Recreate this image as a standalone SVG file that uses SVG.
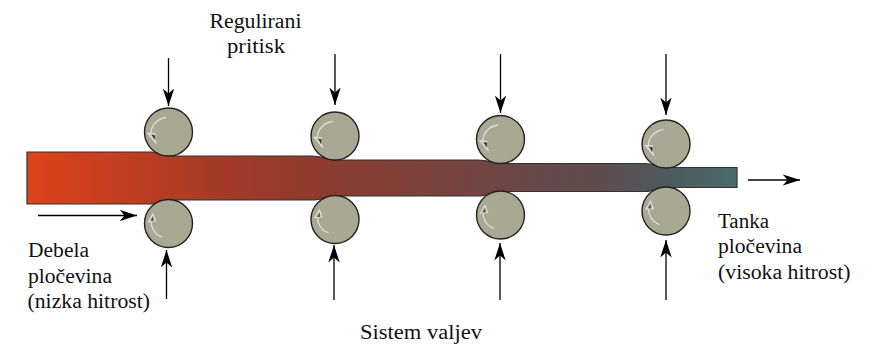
<svg xmlns="http://www.w3.org/2000/svg" width="874" height="345" viewBox="0 0 874 345">
<style>
.t{font-family:"Liberation Serif","Times New Roman",serif;font-size:20.500px;fill:#111}
.r{fill:#a9a993;stroke:#222;stroke-width:1.4}
.h{fill:none;stroke:#ddd;stroke-width:1.3}
.a{fill:none;stroke:#000;stroke-width:1.3;marker-end:url(#m)}
</style>
<defs>
<linearGradient id="g" gradientUnits="userSpaceOnUse" x1="27" y1="0" x2="737" y2="0"><stop offset="0" stop-color="#df441a"/><stop offset=".1" stop-color="#c83f1f"/><stop offset=".27" stop-color="#a53a26"/><stop offset=".43" stop-color="#8a3b30"/><stop offset=".6" stop-color="#75433f"/><stop offset=".8" stop-color="#5e4b4e"/><stop offset=".9" stop-color="#4f5a5c"/><stop offset="1" stop-color="#4a6a6c"/></linearGradient>
<marker id="m" markerUnits="userSpaceOnUse" markerWidth="18" markerHeight="12" refX="17.500" refY="6" orient="auto"><path d="M0 .3L17.500 6L0 11.700L5 6Z" fill="#000"/></marker>
<g id="up"><circle class="r" r="24"/><path class="h" d="M-2.500 -14.500C-11 -13.500 -18 -6 -17.500 1.500L-12 11.500L-20.500 1.500L-13 2"/><path d="M-17 2.500L-13.500 3.500L-14 8Z" fill="#333"/></g>
<g id="dn"><circle class="r" r="24"/><path class="h" d="M-6.500 13.500C-14 11 -18 3 -17.500 -3"/><path class="h" d="M-20 -2L-15.500 -9.500L-13 -2.500Z"/><path d="M-18 -2.500L-15.500 -7L-15 -2.500Z" fill="#555"/></g>
</defs>
<g id="sheet"><path d="M27 152H152C158 152 162 156 169 156H312C322 156 328 160 335 160H478C488 160 494 163.500 500 163.500H645C654 163.500 660 167.500 666 167.500H737V187.500H666C660 187.500 654 191.500 645 191.500H500C494 191.500 488 196 478 196H335C328 196 322 200 312 200H169C162 200 158 204 152 204H27Z" fill="url(#g)" stroke="#333" stroke-width="1.2"/></g>
<g id="roller-1-top"><use href="#up" x="168.500" y="132"/></g>
<g id="roller-1-bottom"><use href="#dn" x="168.500" y="223.500"/></g>
<g id="roller-2-top"><use href="#up" x="335" y="136"/></g>
<g id="roller-2-bottom"><use href="#dn" x="335" y="219.500"/></g>
<g id="roller-3-top"><use href="#up" x="500.500" y="139.500"/></g>
<g id="roller-3-bottom"><use href="#dn" x="500.500" y="215"/></g>
<g id="roller-4-top"><use href="#up" x="666" y="144"/></g>
<g id="roller-4-bottom"><use href="#dn" x="666" y="211"/></g>
<g id="connectors">
<path class="a" d="M168.500 58V106"/><path class="a" d="M335 54V105"/><path class="a" d="M500.500 54V113"/><path class="a" d="M666 54V115"/>
<path class="a" d="M166.500 299V250"/><path class="a" d="M334 300V245"/><path class="a" d="M500 300V243"/><path class="a" d="M666 300V240"/>
<path class="a" d="M38 215.500H137"/><path class="a" d="M748 180H800"/>
</g>
<g id="labels">
<text class="t" x="209.500" y="28" textLength="92" lengthAdjust="spacingAndGlyphs">Regulirani</text>
<text class="t" x="227" y="52.500" textLength="58" lengthAdjust="spacingAndGlyphs">pritisk</text>
<text class="t" x="28" y="257" textLength="61" lengthAdjust="spacingAndGlyphs">Debela</text>
<text class="t" x="28" y="282.500" textLength="84" lengthAdjust="spacingAndGlyphs">pločevina</text>
<text class="t" x="27.500" y="308" textLength="122.500" lengthAdjust="spacingAndGlyphs">(nizka hitrost)</text>
<text class="t" x="718" y="228" textLength="51" lengthAdjust="spacingAndGlyphs">Tanka</text>
<text class="t" x="718" y="253" textLength="84" lengthAdjust="spacingAndGlyphs">pločevina</text>
<text class="t" x="718" y="278.500" textLength="132.500" lengthAdjust="spacingAndGlyphs">(visoka hitrost)</text>
<text class="t" x="360" y="339" textLength="122" lengthAdjust="spacingAndGlyphs">Sistem valjev</text>
</g>
</svg>
